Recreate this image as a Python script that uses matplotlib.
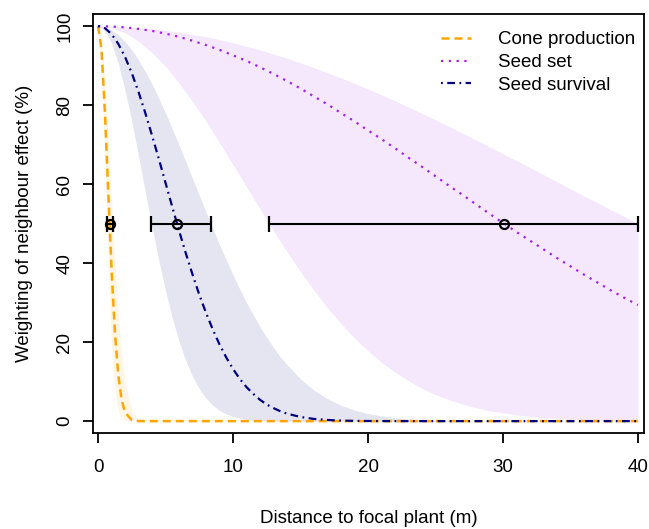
import numpy as np
import matplotlib
matplotlib.use('Agg')
import matplotlib.pyplot as plt

plt.rcParams['font.family'] = ['Liberation Sans', 'DejaVu Sans']

# values (weighting, %)
cone_dist = [0, 0.25, 0.5, 0.75, 1.0, 1.25, 1.5, 1.75, 2.0, 2.5, 3.0, 40]
cone_mid = [100, 94.2, 78.7, 58.3, 38.3, 22.3, 11.6, 5.3, 2.2, 0.25, 0, 0]
cone_lo = [100, 90.3, 66.4, 39.7, 19.4, 7.7, 2.5, 0.7, 0.1, 0, 0, 0]
cone_hi = [100, 96.4, 86.4, 72.0, 55.8, 40.2, 26.9, 16.7, 9.7, 2.6, 0.5, 0]

surv_dist = [0, 0.5, 1, 1.5, 2, 2.5, 3, 3.5, 4, 4.5, 5, 5.5, 6, 6.5, 7, 7.5, 8, 8.5,
             9, 9.5, 10, 10.5, 11, 11.5, 12, 12.5, 13, 13.5, 14,
             15, 16, 17, 18, 19, 20, 22, 25, 30, 40]
surv_mid = [100, 99.5, 98.0, 95.5, 92.2, 88.1, 83.3, 78.0, 72.3, 66.4, 60.3, 54.2,
            48.2, 42.5, 37.1, 32.0, 27.4, 23.2, 19.4, 16.1, 13.2, 10.7, 8.6, 6.9,
            5.4, 4.2, 3.3, 2.5, 1.9,
            1.05, 0.56, 0.29, 0.14, 0.07, 0.03, 0, 0, 0, 0]
surv_lo = [100, 98.9, 95.7, 90.5, 83.7, 75.8, 67.0, 58.0, 49.1, 40.7, 32.9, 26.1,
           20.2, 15.3, 11.3, 8.2, 5.8, 4.0, 2.7, 1.8, 1.2, 0.75, 0.46, 0.28,
           0.17, 0.1, 0.05, 0.03, 0,
           0, 0, 0, 0, 0, 0, 0, 0, 0, 0]
surv_hi = [100, 99.8, 99.0, 97.8, 96.1, 94.0, 91.4, 88.5, 85.3, 81.8, 78.0, 74.0,
           69.9, 65.7, 61.4, 57.2, 52.9, 48.8, 44.7, 40.8, 37.0, 33.4, 30.0, 26.9,
           23.9, 21.2, 18.6, 16.3, 14.3,
           10.7, 7.8, 5.7, 4.0, 2.8, 1.9, 0.8, 0.2, 0, 0]

set_dist = list(range(0, 41))
set_mid = [100, 99.9, 99.7, 99.3, 98.8, 98.1, 97.3, 96.3, 95.2, 94.0, 92.6,
           91.2, 89.6, 87.9, 86.1, 84.2, 82.2, 80.2, 78.0, 75.9, 73.6,
           71.4, 69.1, 66.7, 64.4, 62.0, 59.6, 57.3, 54.9, 52.5, 50.2,
           47.9, 45.7, 43.5, 41.3, 39.2, 37.1, 35.1, 33.1, 31.2, 29.4]
set_lo = [100, 99.6, 98.3, 96.2, 93.3, 89.8, 85.6, 80.9, 75.9, 70.5, 64.9,
          59.3, 53.7, 48.2, 42.9, 37.8, 33.1, 28.7, 24.7, 21.0, 17.8,
          14.9, 12.4, 10.2, 8.3, 6.7, 5.4, 4.3, 3.4, 2.6, 2.1,
          1.6, 1.2, 0.9, 0.7, 0.5, 0.4, 0.27, 0.2, 0.14, 0.1]
set_hi = [100, 100, 99.8, 99.6, 99.3, 98.9, 98.5, 97.9, 97.3, 96.6, 95.8,
          94.9, 94.0, 92.9, 91.9, 90.7, 89.5, 88.2, 86.9, 85.5, 84.1,
          82.6, 81.1, 79.5, 77.9, 76.3, 74.6, 72.9, 71.2, 69.5, 67.7,
          66.0, 64.2, 62.4, 60.6, 58.8, 57.0, 55.3, 53.5, 51.8, 50.0]

# distance at 50% weighting with its interval
d50 = [0.88, 5.86, 30.1]
d50_lo = [0.65, 3.93, 12.67]
d50_hi = [1.09, 8.36, 40.0]

orange = '#FFA500'
purple = '#A020F0'
navy = '#000080'

fig = plt.figure(figsize=(6.49, 5.29), dpi=100)
ax = fig.add_axes([0.1428, 0.1815, 0.8495, 0.7915])

# ribbons
ax.fill_between(cone_dist, cone_lo, cone_hi, color=orange, alpha=0.1, lw=0)
ax.fill_between(set_dist, set_lo, set_hi, color=purple, alpha=0.1, lw=0)
ax.fill_between(surv_dist, surv_lo, surv_hi, color=navy, alpha=0.1, lw=0)

# curves
ax.plot(cone_dist, cone_mid, color=orange, lw=1.8, dashes=(3.2, 2), label='Cone production')
ax.plot(set_dist, set_mid, color=purple, lw=1.6, dashes=(1, 2.5), label='Seed set')
ax.plot(surv_dist, surv_mid, color=navy, lw=1.6, dashes=(0.8, 2, 3.5, 2), label='Seed survival')

# 50% distances
y50 = [50] * len(d50)
err = [np.array(d50) - np.array(d50_lo), np.array(d50_hi) - np.array(d50)]
ax.errorbar(d50, y50, xerr=err, fmt='o', color='black', mfc='none', ms=6.5,
            mew=1.6, elinewidth=1.5, capsize=6, capthick=1.5, zorder=5, clip_on=False)

ax.set_xlim(-0.4, 40.45)
ax.set_ylim(-3, 103)
ax.set_xticks([0, 10, 20, 30, 40])
ax.set_yticks([0, 20, 40, 60, 80, 100])
ax.tick_params(axis='both', direction='out', length=7, width=1.3, labelsize=13.5)
ax.tick_params(axis='x', pad=12)
ax.tick_params(axis='y', pad=7)
for lbl in ax.get_yticklabels():
    lbl.set_rotation(90)
    lbl.set_va('center')
for sp in ax.spines.values():
    sp.set_linewidth(1.3)

ax.set_xlabel('Distance to focal plant (m)', fontsize=13.5, labelpad=24)
ax.set_ylabel('Weighting of neighbour effect (%)', fontsize=13.5, labelpad=17)

ax.legend(loc='upper left', bbox_to_anchor=(0.632, 0.960), frameon=False, fontsize=13.5,
          handlelength=1.6, handletextpad=1.45, labelspacing=0.31, borderpad=0,
          borderaxespad=0)

fig.savefig('out.png', dpi=100)
